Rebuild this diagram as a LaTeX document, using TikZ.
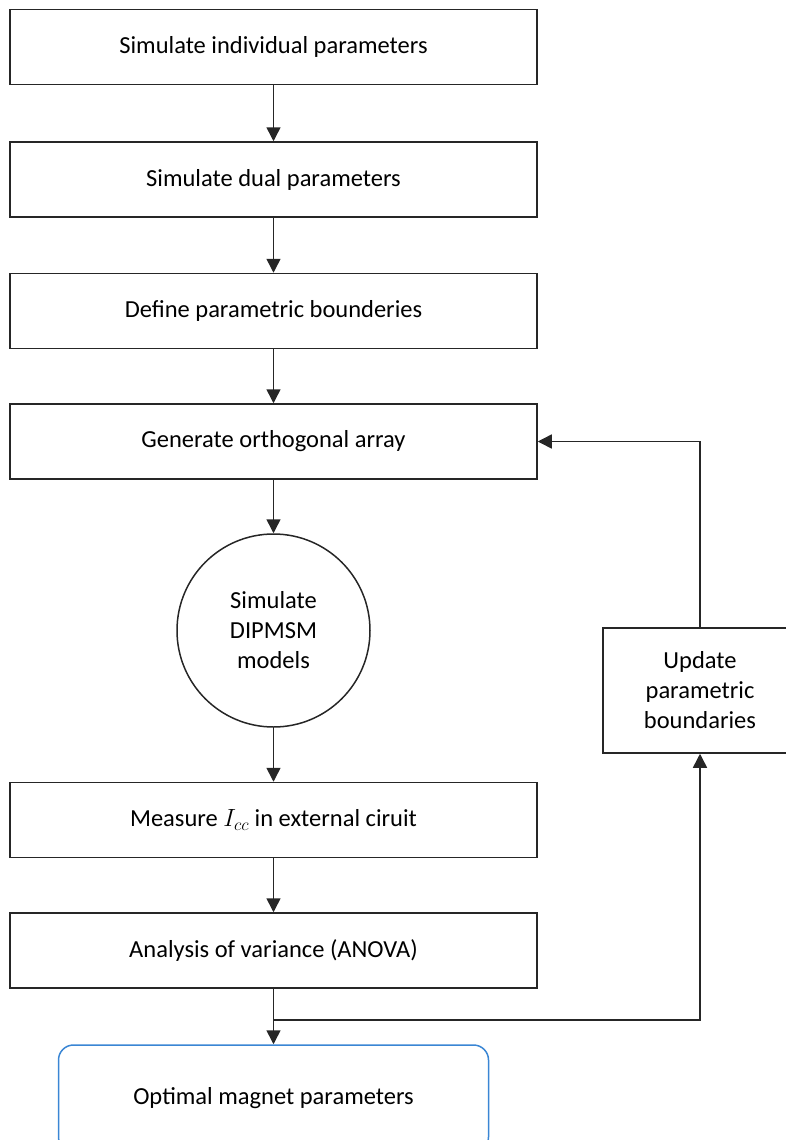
\documentclass[tikz,border=0pt]{standalone}
\usepackage{fontspec}
\setmainfont{Carlito}
\usetikzlibrary{positioning, arrows.meta}
\definecolor{endblue}{RGB}{58,134,212}

\begin{document}
\begin{tikzpicture}[x=1pt, y=-1pt,
		stepbox/.style={draw=black!85, line width=1.5pt, minimum width=527pt, minimum height=75pt,
				inner sep=0pt, align=center, font=\fontsize{24.5}{30}\selectfont},
		flow/.style={draw=black!85, line width=1.5pt, -{Triangle[length=14pt, width=14pt]}}]
		% 页面大小
		\useasboundingbox (0, 0) rectangle (785, 1140);

		% 主流程的方框
		\node[stepbox] (sim1)  at (273.5, 47)    {Simulate individual parameters};
		\node[stepbox] (sim2)  at (273.5, 179.5) {Simulate dual parameters};
		\node[stepbox] (bound) at (273.5, 311)   {Define parametric bounderies};
		\node[stepbox] (ortho) at (273.5, 441.5) {Generate orthogonal array};
		\node[stepbox, circle, minimum width=193pt] (dipmsm) at (273.5, 630.5) {Simulate\\DIPMSM\\models};
		\node[stepbox] (meas)  at (273.5, 820)   {Measure $I_{cc}$ in external ciruit};
		\node[stepbox] (anova) at (273.5, 950.5) {Analysis of variance (ANOVA)};

		% 结果和更新
		\node[stepbox, draw=endblue, rounded corners=15pt, minimum width=430pt, minimum height=107pt] (optim) at (273.5, 1098.5) {Optimal magnet parameters};
		\node[stepbox, minimum width=194pt, minimum height=125pt] (update) at (700, 690.5) {Update\\parametric\\boundaries};
		\coordinate (jn) at (273.5, 1020);

		% 箭头
		\foreach \a/\b in {sim1/sim2, sim2/bound, bound/ortho, ortho/dipmsm, dipmsm/meas, meas/anova, anova/optim} {
				\draw[flow] (\a) -- (\b);
			}
		\draw[flow] (jn) -| (update);
		\draw[flow] (update) |- (ortho);
	\end{tikzpicture}
\end{document}
